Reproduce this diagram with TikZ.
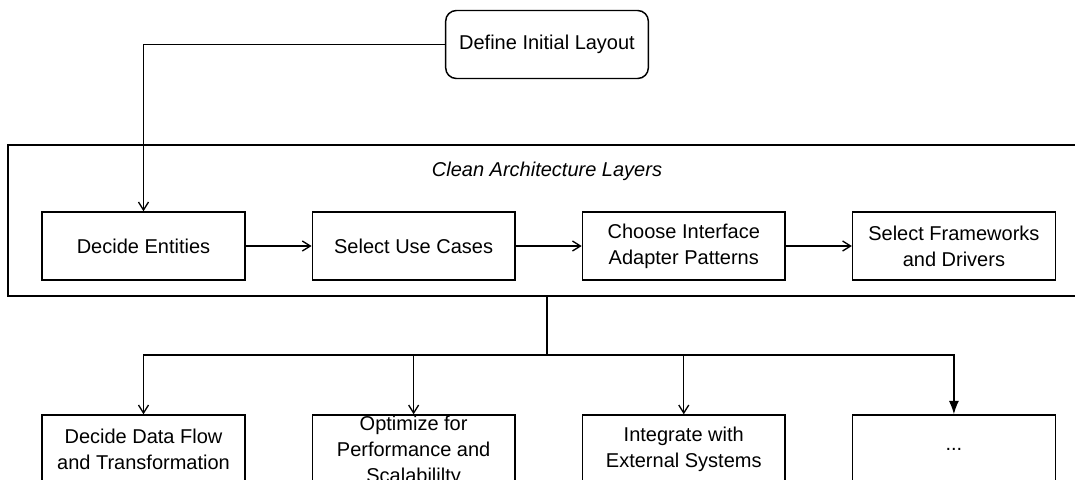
\documentclass[tikz,border=0pt]{standalone}
\usepackage{fontspec}
\setmainfont{Liberation Sans}
\usetikzlibrary{shapes, arrows.meta, positioning}
\tikzstyle{block} = [draw, fill=white, rectangle, line width=1.1pt, minimum width=152pt, minimum height=51pt, align=center, font=\fontsize{15pt}{19.5pt}\selectfont]
\tikzstyle{start} = [block, rounded corners=8pt]
\tikzstyle{group} = [draw, rectangle, line width=1.1pt, minimum width=815pt, minimum height=113.25pt]

\begin{document}
\begin{tikzpicture}[x=0.75pt, y=-0.75pt, line width=1pt, >={Straight Barb[length=6pt,width=7.5pt]}]
  \useasboundingbox (0,0) rectangle (1075,479);
  \clip (0,0) rectangle (1075,479);
  \node [start] at (547,44.5) (define) {Define Initial Layout};
  \node [group] at (551.5,220.5) (layers) {};
  \node [font=\fontsize{15pt}{18.75pt}\selectfont\itshape] at (547,171) (title) {Clean Architecture Layers};
  \node [block] at (143.5,246) (entities) {Decide Entities};
  \node [block, right=49.5pt of entities] (usecases) {Select Use Cases};
  \node [block, right=49.5pt of usecases] (adapters) {Choose Interface\\Adapter Patterns};
  \node [block, right=49.5pt of adapters] (drivers) {Select Frameworks\\and Drivers};
  \coordinate (split) at (547,355);
  \node [block] at (143.5,449) (dataflow) {Decide Data Flow\\and Transformation};
  \node [block, inner ysep=0pt, text depth=0pt, right=49.5pt of dataflow] (perf) {Optimize for\\Performance and\\Scalabililty};
  \node [block, right=49.5pt of perf] (external) {Integrate with\\External Systems};
  \node [block, right=49.5pt of external] (more) {...};
  \draw [->] (define.west) -| (entities.north);
  \draw [->] (entities) -- (usecases);
  \draw [->] (usecases) -- (adapters);
  \draw [->] (adapters) -- (drivers);
  \draw (layers.south -| define) -- (split);
  \draw [->] (split) -| (dataflow.north);
  \draw [->] (split) -| (perf.north);
  \draw [->] (split) -| (external.north);
  \draw [-{Latex[length=10pt,width=7.5pt]}] (split) -| (more.north);
\end{tikzpicture}
\end{document}
